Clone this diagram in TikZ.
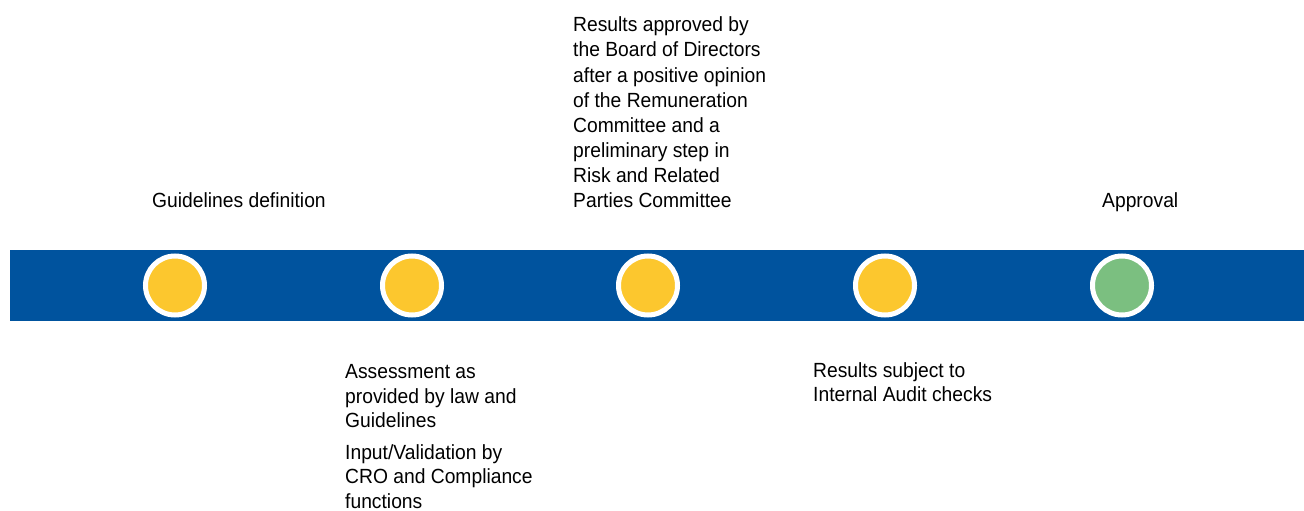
\documentclass[tikz,border=0pt]{standalone}
\usepackage{fontspec}
\setmainfont[FakeStretch=0.94]{Liberation Sans}
\definecolor{bandblue}{RGB}{0,83,158}
\definecolor{dotyellow}{RGB}{252,199,46}
\definecolor{dotgreen}{RGB}{123,191,128}
\tikzset{
  dot/.style={circle, draw=white, line width=5pt, minimum size=59pt, inner sep=0pt},
  lbl/.style={anchor=base west, align=left, inner sep=0pt, font=\fontsize{20.5}{24.5}\selectfont, text=black}
}
\begin{document}
\begin{tikzpicture}[x=1pt,y=-1pt]
\useasboundingbox (0,0) rectangle (1304,511);
\fill[bandblue] (10,250) rectangle (1304,321);
\node[dot, fill=dotyellow] (c1) at (175,285.5) {};
\node[dot, fill=dotyellow] (c2) at (412,285.5) {};
\node[dot, fill=dotyellow] (c3) at (648,285.5) {};
\node[dot, fill=dotyellow] (c4) at (885,285.5) {};
\node[dot, fill=dotgreen] (c5) at (1122,285.5) {};
\node[lbl] (t1) at (152,207.5) {Guidelines definition};
\node[lbl, font=\fontsize{20.5}{25.1}\selectfont] (t3) at (573,207.5) {Results approved by\\the Board of Directors\\after a positive opinion\\of the Remuneration\\Committee and a\\preliminary step in\\Risk and Related\\Parties Committee};
\node[lbl] (t5) at (1102,207.5) {Approval};
\node[lbl] (t2) at (345,508) {Assessment as\\provided by law and\\Guidelines\\[7pt]Input/Validation by\\CRO and Compliance\\functions};
\node[lbl] (t4) at (813,401.5) {Results subject to\\Internal Audit checks};
\end{tikzpicture}
\end{document}
